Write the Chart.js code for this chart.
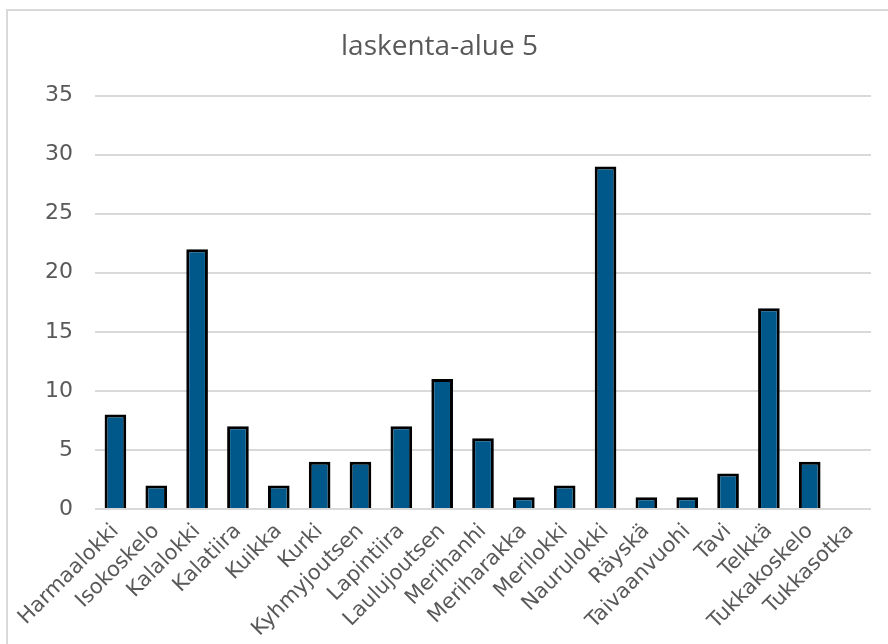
<!DOCTYPE html>
<html>
<head>
<meta charset="utf-8">
<script src="https://cdn.jsdelivr.net/npm/chart.js@4.4.0/dist/chart.umd.min.js"></script>
<style>
  html, body { margin: 0; padding: 0; background: #fff; }
  #wrap { width: 888px; height: 644px; }
</style>
</head>
<body>
<div id="wrap"><canvas id="c" width="888" height="644"></canvas></div>
<script>
const chartTitle = "laskenta-alue 5";
const categories = ["Harmaalokki", "Isokoskelo", "Kalalokki", "Kalatiira", "Kuikka", "Kurki", "Kyhmyjoutsen", "Lapintiira", "Laulujoutsen", "Merihanhi", "Meriharakka", "Merilokki", "Naurulokki", "Räyskä", "Taivaanvuohi", "Tavi", "Telkkä", "Tukkakoskelo", "Tukkasotka"];
const counts = [8, 2, 22, 7, 2, 4, 4, 7, 11, 6, 1, 2, 29, 1, 1, 3, 17, 4, 0];
const yMin = 0, yMax = 35, yStep = 5;

const frame = {
  id: 'frame',
  beforeDraw(chart) {
    const ctx = chart.ctx;
    ctx.save();
    ctx.fillStyle = '#ffffff';
    ctx.fillRect(0, 0, chart.width, chart.height);
    ctx.strokeStyle = '#d9d9d9';
    ctx.lineWidth = 2;
    ctx.beginPath();
    ctx.moveTo(7, chart.height);
    ctx.lineTo(7, 10);
    ctx.lineTo(chart.width, 10);
    ctx.stroke();
    ctx.restore();
  }
};

new Chart(document.getElementById('c'), {
  type: 'bar',
  data: {
    labels: categories,
    datasets: [{
      data: counts,
      backgroundColor: '#00588a',
      borderColor: '#000000',
      borderWidth: 3,
      borderSkipped: 'bottom',
      barPercentage: 0.53,
      categoryPercentage: 1.0
    }]
  },
  options: {
    responsive: false,
    animation: false,
    devicePixelRatio: 1,
    layout: { padding: { left: 8, right: 17, top: 0, bottom: 0 } },
    plugins: {
      legend: { display: false },
      tooltip: { enabled: false },
      title: {
        display: true,
        text: chartTitle,
        color: '#595959',
        font: { family: 'Open Sans', size: 28, weight: 'normal', lineHeight: 1.2 },
        padding: { top: 30, bottom: 32 }
      }
    },
    scales: {
      x: {
        grid: { display: false },
        border: { display: false },
        ticks: {
          color: '#595959',
          font: { family: 'DejaVu Sans', size: 21 },
          minRotation: 45,
          maxRotation: 45,
          autoSkip: false,
          padding: 2
        },
        afterFit(scale) { scale.height = 135; }
      },
      y: {
        min: yMin,
        max: yMax,
        grid: { color: '#d9d9d9', lineWidth: 2, drawTicks: false },
        border: { display: false },
        ticks: {
          stepSize: yStep,
          color: '#595959',
          font: { family: 'DejaVu Sans', size: 22 },
          padding: 22
        },
        afterFit(scale) { scale.width = 87; }
      }
    }
  },
  plugins: [frame]
});
</script>
</body>
</html>
